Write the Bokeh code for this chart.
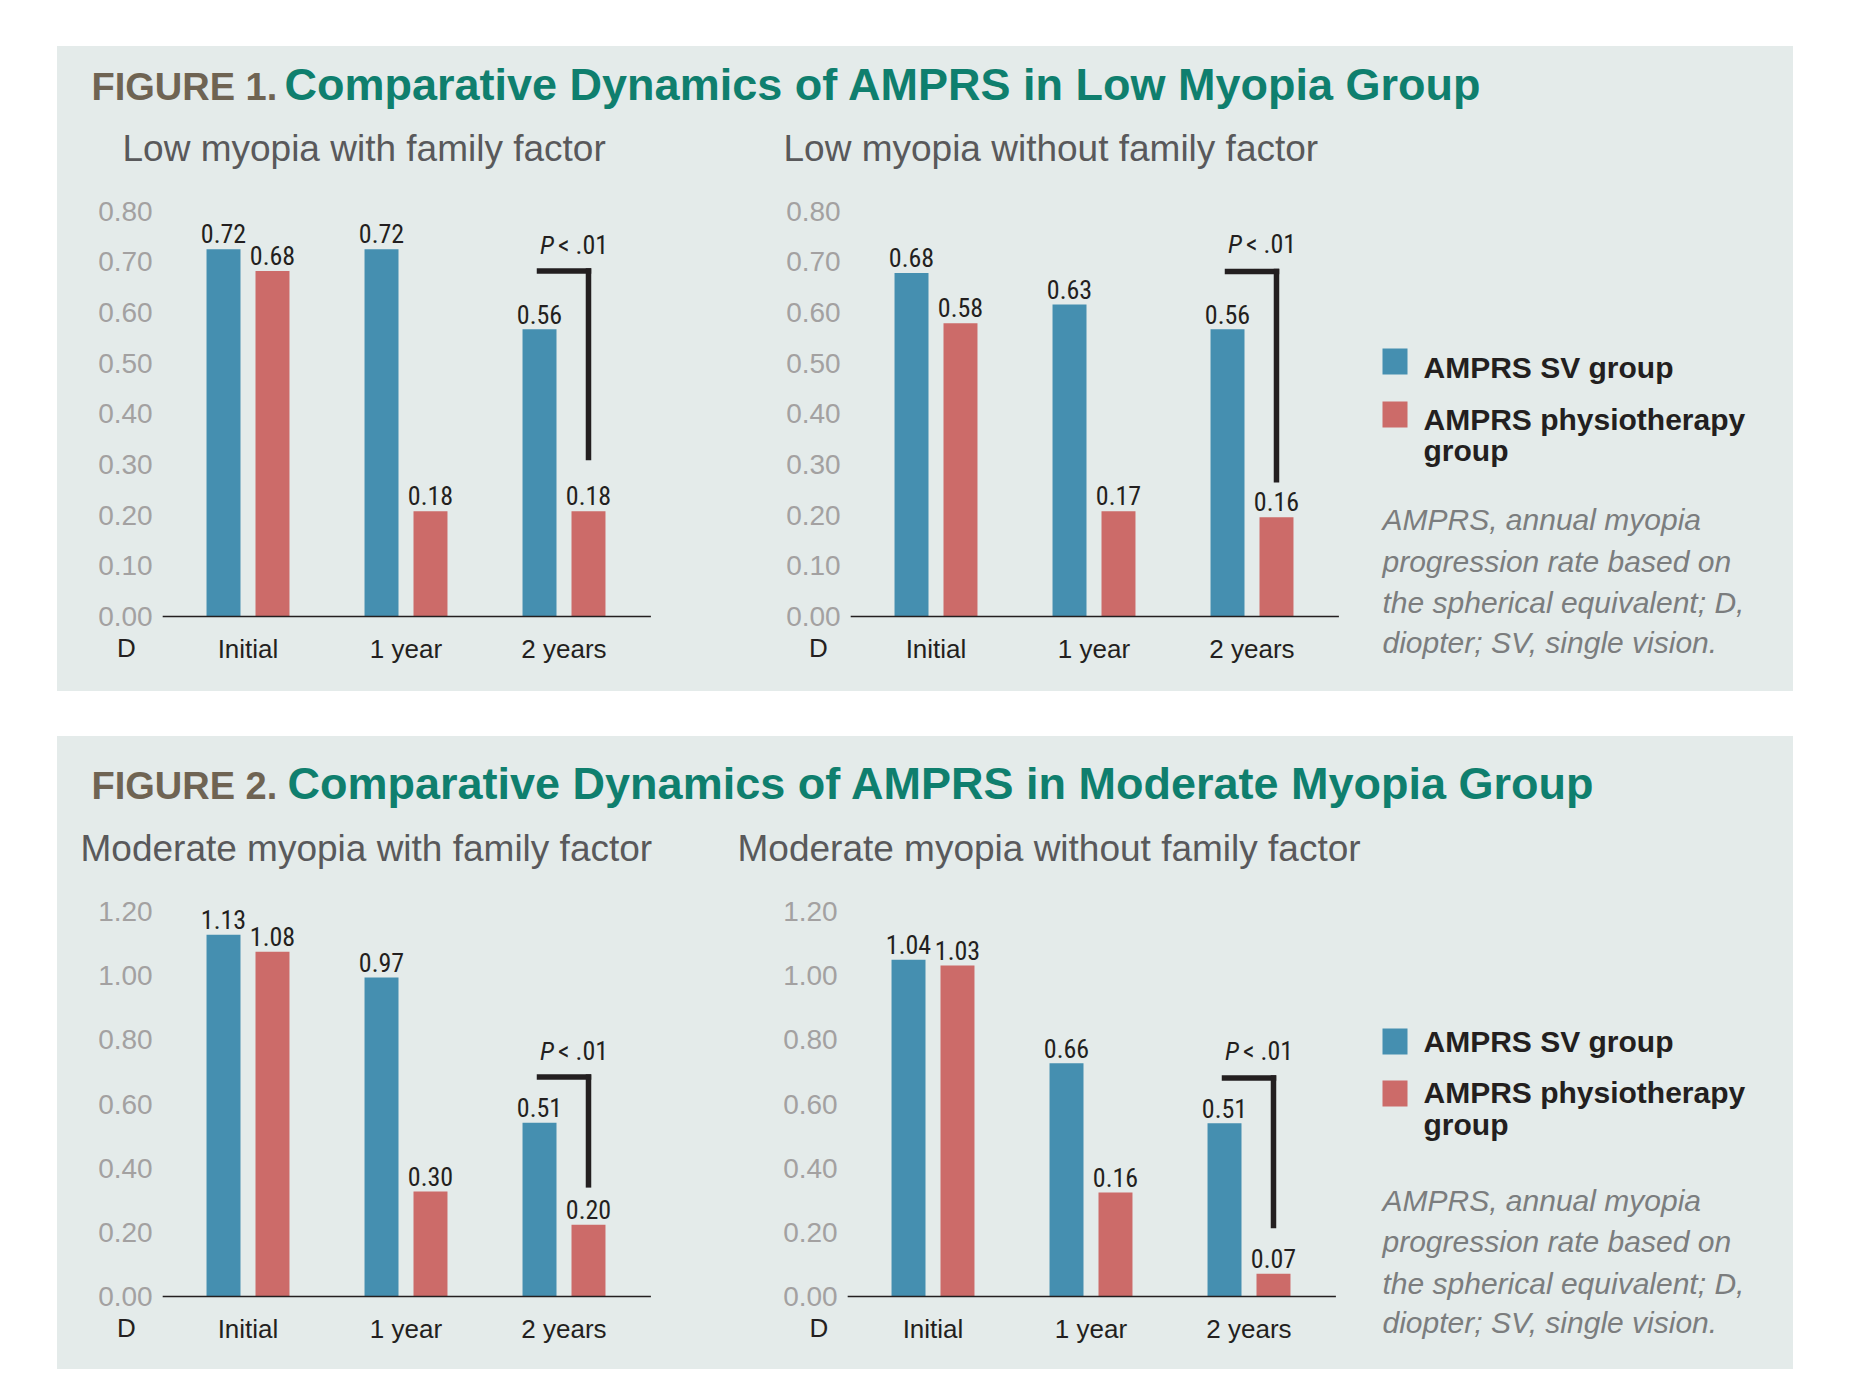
from bokeh.plotting import figure
from bokeh.models import (Range1d, ColumnDataSource, FixedTicker,
                          NumeralTickFormatter, Spacer)
from bokeh.layouts import row, column
from bokeh.transform import dodge
from bokeh.core.properties import value
from bokeh.embed import file_html
from bokeh.resources import INLINE

# ---------------- data ----------------
categories = ["Initial", "1 year", "2 years"]
unit_label = "D"
legend_labels = ["AMPRS SV group", "AMPRS physiotherapy", "group"]
note_lines = ["AMPRS, annual myopia", "progression rate based on",
              "the spherical equivalent; D,", "diopter; SV, single vision."]

fig1_title = "Comparative Dynamics of AMPRS in Low Myopia Group"
fig2_title = "Comparative Dynamics of AMPRS in Moderate Myopia Group"
fig1_subtitles = ["Low myopia with family factor", "Low myopia without family factor"]
fig2_subtitles = ["Moderate myopia with family factor", "Moderate myopia without family factor"]

low_ticks = [0.0, 0.1, 0.2, 0.3, 0.4, 0.5, 0.6, 0.7, 0.8]
mod_ticks = [0.0, 0.2, 0.4, 0.6, 0.8, 1.0, 1.2]

# printed values
low_with_sv = [0.72, 0.72, 0.56]
low_with_ph = [0.68, 0.18, 0.18]
low_without_sv = [0.68, 0.63, 0.56]
low_without_ph = [0.58, 0.17, 0.16]
mod_with_sv = [1.13, 0.97, 0.51]
mod_with_ph = [1.08, 0.30, 0.20]
mod_without_sv = [1.04, 0.66, 0.51]
mod_without_ph = [1.03, 0.16, 0.07]

# bar heights as drawn in the picture
low_with_sv_drawn = [0.725, 0.725, 0.567]
low_with_ph_drawn = [0.682, 0.208, 0.208]
low_without_sv_drawn = [0.678, 0.616, 0.567]
low_without_ph_drawn = [0.579, 0.208, 0.196]
mod_with_sv_drawn = [1.128, 0.994, 0.542]
mod_with_ph_drawn = [1.075, 0.327, 0.224]
mod_without_sv_drawn = [1.05, 0.727, 0.54]
mod_without_ph_drawn = [1.032, 0.324, 0.071]

# significance brackets at "2 years": (top, bottom, text baseline)
bracket_low_with = [0.682, 0.314, 0.716]
bracket_low_without = [0.681, 0.27, 0.717]
bracket_mod_with = [0.684, 0.348, 0.735]
bracket_mod_without = [0.681, 0.221, 0.735]

# ---------------- style ----------------
BG = "#e4ebea"
BLUE = "#458fb0"
RED = "#cc6b69"
INK = "#231f20"
TEAL = "#0f7f6e"
BROWN = "#6f6453"
SUB = "#59595b"
TICK = "#a3a1a1"
NOTE = "#7b7d7e"
SANS = "'Liberation Sans', Arial, sans-serif"
NARROW = "'Liberation Sans Narrow', 'Roboto Condensed', 'Liberation Sans', sans-serif"
MID = 0.355   # baseline sits this fraction of the font size below a "middle" anchor

OFF = 0.155   # dodge of each bar from category centre
BW = 0.215    # bar width
LAB = 26      # value label size, px
STEP = 158.0  # px per category slot


def chart(x0, width, height, cat0_left, ppu, below, ticks,
          sv, sv_h, ph, ph_h, bracket, d_dx):
    above = height - below
    centers = [i + 0.5 for i in range(len(categories))]
    p = figure(width=width, height=height,
               x_range=Range1d((x0 - cat0_left) / STEP, (x0 + width - cat0_left) / STEP),
               y_range=Range1d(-below / ppu, above / ppu),
               output_backend="svg", toolbar_location=None,
               min_border_left=0, min_border_right=0,
               min_border_top=0, min_border_bottom=0,
               background_fill_color=BG, border_fill_color=BG,
               outline_line_color=None)
    p.grid.visible = False

    src = ColumnDataSource(dict(
        xc=centers, sv=sv_h, ph=ph_h,
        sv_t=[f"{v:.2f}" for v in sv], ph_t=[f"{v:.2f}" for v in ph]))
    p.vbar(x=dodge("xc", -OFF), top="sv", width=BW,
           source=src, fill_color=BLUE, line_color=None)
    p.vbar(x=dodge("xc", OFF), top="ph", width=BW,
           source=src, fill_color=RED, line_color=None)
    for col, off in (("sv", -OFF), ("ph", OFF)):
        p.text(x=dodge("xc", off), y=col, text=col + "_t",
               source=src, text_align="center", text_baseline="middle",
               y_offset=-6 - MID * LAB, text_font=value(NARROW),
               text_font_size=f"{LAB}px", text_color=INK)

    # baseline (x axis line) and the unit label "D"
    asrc = ColumnDataSource(dict(a=[centers[0]], b=[centers[-1]], y=[0.0],
                                 d=[unit_label], dy=[-(41 - MID * 26) / ppu]))
    p.segment(x0=dodge("a", -0.54), y0="y", x1=dodge("b", 0.55), y1="y",
              source=asrc, line_color=INK, line_width=1.5)
    p.text(x=dodge("a", d_dx), y="dy", text="d", source=asrc,
           text_align="center", text_baseline="middle", text_font=value(SANS),
           text_font_size="26px", text_color=INK)

    bsrc = ColumnDataSource(dict(xc=[centers[2]], top=[bracket[0]],
                                 bot=[bracket[1]], ty=[bracket[2]],
                                 p=["P"], rest=["< .01"]))
    p.segment(x0=dodge("xc", -OFF), y0="top", x1=dodge("xc", OFF), y1="top",
              source=bsrc, line_color=INK, line_width=5.5, line_cap="square")
    p.segment(x0=dodge("xc", OFF), y0="top", x1=dodge("xc", OFF), y1="bot",
              source=bsrc, line_color=INK, line_width=5.5, line_cap="square")
    p.text(x="xc", y="ty", text="p", source=bsrc, text_align="right",
           text_baseline="middle", x_offset=-10, y_offset=-MID * LAB,
           text_font=value(NARROW), text_font_style="italic",
           text_font_size=f"{LAB}px", text_color=INK)
    p.text(x="xc", y="ty", text="rest", source=bsrc, text_align="left",
           text_baseline="middle", x_offset=-6, y_offset=-MID * LAB,
           text_font=value(NARROW), text_font_size=f"{LAB}px", text_color=INK)

    xa = p.xaxis[0]
    xa.fixed_location = 0
    xa.ticker = FixedTicker(ticks=centers)
    xa.major_label_overrides = {c: name for c, name in zip(centers, categories)}
    xa.axis_line_color = None
    xa.major_tick_line_color = None
    xa.minor_tick_line_color = None
    xa.major_tick_out = 0
    xa.major_tick_in = 0
    xa.major_label_standoff = 17
    xa.major_label_text_font = SANS
    xa.major_label_text_font_size = "26px"
    xa.major_label_text_color = INK

    ya = p.yaxis[0]
    ya.fixed_location = -0.04
    ya.ticker = FixedTicker(ticks=ticks)
    ya.formatter = NumeralTickFormatter(format="0.00")
    ya.axis_line_color = None
    ya.major_tick_line_color = None
    ya.minor_tick_line_color = None
    ya.major_tick_out = 0
    ya.major_tick_in = 0
    ya.major_label_standoff = 10
    ya.major_label_text_font = SANS
    ya.major_label_text_font_size = "28px"
    ya.major_label_text_color = TICK
    return p


def blank(width, height, xr, yr):
    p = figure(width=width, height=height, x_range=Range1d(*xr),
               y_range=Range1d(*yr), x_axis_type=None, y_axis_type=None,
               output_backend="svg", toolbar_location=None,
               min_border_left=0, min_border_right=0, min_border_top=0,
               min_border_bottom=0, background_fill_color=BG,
               border_fill_color=BG, outline_line_color=None)
    p.grid.visible = False
    return p


def header(height, y0, label, title, subtitles, title_x, sub_xs, base_t, base_s):
    h = blank(1736, height, (57, 1793), (y0 + height, y0))
    h.text(x=[91], y=[base_t - MID * 38], text=[label], text_font=value(SANS),
           text_font_style="bold", text_font_size="38px", text_color=BROWN,
           text_baseline="middle")
    h.text(x=[title_x], y=[base_t - MID * 45], text=[title], text_font=value(SANS),
           text_font_style="bold", text_font_size="45px", text_color=TEAL,
           text_baseline="middle")
    h.text(x=sub_xs, y=[base_s - MID * 37] * 2, text=subtitles,
           text_font=value(SANS), text_font_size="37px", text_color=SUB,
           text_baseline="middle")
    return h


def legend_fig(height, y0, sq_tops, text_bases, note_bases):
    f = blank(413, height, (1380, 1793), (y0 + height, y0))
    f.quad(left=[1382, 1382], right=[1407, 1407],
           top=[sq_tops[0], sq_tops[1]], bottom=[sq_tops[0] + 26, sq_tops[1] + 26],
           fill_color=[BLUE, RED], line_color=None)
    f.text(x=[1423] * 3, y=[b - MID * 30 for b in text_bases], text=legend_labels,
           text_font=value(SANS), text_font_style="bold", text_font_size="30px",
           text_color=INK, text_baseline="middle")
    f.text(x=[1382] * 4, y=[b - MID * 30 for b in note_bases], text=note_lines,
           text_font=value(SANS), text_font_style="italic", text_font_size="30px",
           text_color=NOTE, text_baseline="middle")
    return f


# ---------------- panel 1 (y 46..691) ----------------
h1 = header(135, 46, "FIGURE 1.", fig1_title, fig1_subtitles, 284, [122, 783], 100, 161)
c1 = chart(57, 683, 510, 168.5, 506.6, 75, low_ticks,
           low_with_sv, low_with_sv_drawn, low_with_ph, low_with_ph_drawn,
           bracket_low_with, -0.769)
c2 = chart(740, 640, 510, 856.5, 506.6, 75, low_ticks,
           low_without_sv, low_without_sv_drawn, low_without_ph, low_without_ph_drawn,
           bracket_low_without, -0.744)
l1 = legend_fig(510, 181, [348, 401], [378, 430, 461], [530, 572, 613, 653])
panel1 = column(h1, row(c1, c2, l1), styles={"background-color": BG})

# ---------------- panel 2 (y 736..1369) ----------------
h2 = header(145, 736, "FIGURE 2.", fig2_title, fig2_subtitles, 287, [80, 737], 799, 861)
c3 = chart(57, 683, 488, 168.5, 320.8, 73, mod_ticks,
           mod_with_sv, mod_with_sv_drawn, mod_with_ph, mod_with_ph_drawn,
           bracket_mod_with, -0.769)
c4 = chart(740, 640, 488, 853.5, 320.8, 73, mod_ticks,
           mod_without_sv, mod_without_sv_drawn, mod_without_ph, mod_without_ph_drawn,
           bracket_mod_without, -0.722)
l2 = legend_fig(488, 881, [1028, 1080], [1052, 1103, 1135], [1211, 1252, 1294, 1333])
panel2 = column(h2, row(c3, c4, l2), styles={"background-color": BG})

page = column(Spacer(height=46),
              row(Spacer(width=57), panel1),
              Spacer(height=45),
              row(Spacer(width=57), panel2))

open("out.html", "w").write(file_html(page, INLINE))
